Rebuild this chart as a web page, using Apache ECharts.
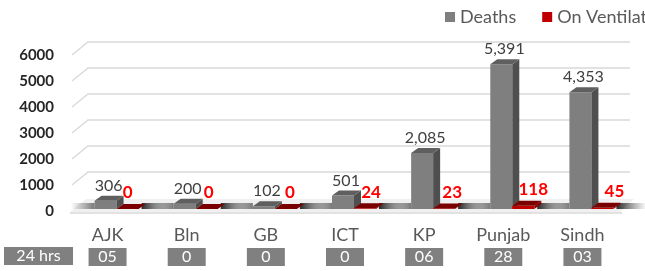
<!DOCTYPE html>
<html>
<head>
<meta charset="utf-8">
<script src="https://cdn.jsdelivr.net/npm/echarts@6/dist/echarts.min.js"></script>
<style>
  html, body { margin: 0; padding: 0; background: #fff; }
  #chart { width: 645px; height: 271px; }
</style>
</head>
<body>
<div id="chart"></div>
<script>
var regions = ['AJK', 'Bln', 'GB', 'ICT', 'KP', 'Punjab', 'Sindh'];
var deaths = [306, 200, 102, 501, 2085, 5391, 4353];
var ventilator = [0, 0, 0, 24, 23, 118, 45];
var last24 = ['05', '0', '0', '0', '06', '28', '03'];
var yTicks = [0, 1000, 2000, 3000, 4000, 5000, 6000];

var FONT = 'Lato';
var DX = 7, DY = 5;

function fmt(v) {
    return String(v).replace(/\B(?=(\d{3})+(?!\d))/g, ',');
}

function box3d(x1, x2, yTop, yBase, front, side, top) {
    return [
        {type: 'rect', shape: {x: x1, y: yTop, width: x2 - x1, height: yBase - yTop}, style: {fill: front}},
        {type: 'polygon', shape: {points: [[x2, yTop], [x2 + DX, yTop - DY], [x2 + DX, yBase - DY], [x2, yBase]]}, style: {fill: side}},
        {type: 'polygon', shape: {points: [[x1, yTop], [x1 + DX, yTop - DY], [x2 + DX, yTop - DY], [x2, yTop]]}, style: {fill: top}}
    ];
}

// gridlines + floor
function renderGrid(params, api) {
    var cs = params.coordSys;
    var t = api.value(1);
    var y = api.coord([0, t])[1];
    var x0 = cs.x;
    var xEnd = cs.x + cs.width + 8;
    if (t === 0) {
        var kids = [{
            type: 'polygon',
            shape: {points: [[x0 + 2, y + 1], [x0 + 18, y - 12], [xEnd + 4, y - 12], [xEnd - 10, y + 1]]},
            style: {fill: '#f0f0f0'}
        }, {
            type: 'line',
            shape: {x1: x0 + 2, y1: y + 2, x2: xEnd - 8, y2: y + 2},
            style: {stroke: '#d9d9d9', lineWidth: 1.5}
        }];
        return {type: 'group', children: kids};
    }
    return {
        type: 'polyline',
        shape: {points: [[x0 + 4, y], [x0 + 20, y - 13], [xEnd, y - 13]]},
        style: {stroke: '#d9d9d9', lineWidth: 1.3, fill: null}
    };
}

function renderDeaths(params, api) {
    var i = api.value(0), v = api.value(1);
    var p = api.coord([i, v]);
    var base = api.coord([i, 0])[1];
    var c = p[0];
    var x1 = c - 13, x2 = c + 9;
    var kids = [];
    // floor shadows
    kids.push({
        type: 'rect', shape: {x: x1 - 24, y: base - 6, width: 24, height: 6},
        style: {fill: new echarts.graphic.LinearGradient(0, 0, 1, 0, [
            {offset: 0, color: 'rgba(120,120,120,0)'}, {offset: 1, color: 'rgba(90,90,90,0.8)'}])}
    });
    kids.push({
        type: 'rect', shape: {x: c + 31 + DX - 4, y: base - 6, width: 30, height: 6},
        style: {fill: new echarts.graphic.LinearGradient(0, 0, 1, 0, [
            {offset: 0, color: 'rgba(20,20,20,0.9)'}, {offset: 1, color: 'rgba(60,60,60,0)'}])}
    });
    kids = kids.concat(box3d(x1, x2, p[1], base, '#7f7f7f', '#4f4f4f', '#5f5f5f'));
    kids.push({
        type: 'text',
        style: {
            text: fmt(v), x: (x1 + x2) / 2 + 3, y: p[1] - DY - 2,
            align: 'center', verticalAlign: 'bottom',
            fill: '#404040', font: '16px ' + FONT
        }
    });
    return {type: 'group', children: kids};
}

function renderVent(params, api) {
    var i = api.value(0), v = api.value(1);
    var p = api.coord([i, v]);
    var base = api.coord([i, 0])[1];
    var c = p[0];
    var x1 = c + 9, x2 = c + 31;
    var kids = box3d(x1, x2, p[1], base, '#c00000', '#8a0000', '#7a0000');
    kids.push({
        type: 'text',
        style: {
            text: fmt(v), x: (x1 + x2) / 2 + i * 2, y: p[1] - DY - 11,
            align: 'center', verticalAlign: 'middle',
            fill: '#ff0000', font: 'bold 17px ' + FONT
        }
    });
    return {type: 'group', children: kids};
}

var myChart = echarts.init(document.getElementById('chart'));
myChart.setOption({
    animation: false,
    textStyle: {fontFamily: FONT},
    legend: {
        left: 440, top: 3, width: 400,
        itemWidth: 10, itemHeight: 10, itemGap: 26,
        icon: 'rect',
        textStyle: {fontSize: 18, color: '#595959', fontFamily: FONT},
        data: ['Deaths', 'On Ventilator']
    },
    grid: [
        {left: 68, right: 23, top: 55, bottom: 60},
        {left: 68, right: 23, top: 48, bottom: 62}
    ],
    xAxis: [{
        type: 'category', gridIndex: 0, data: regions,
        axisLine: {show: false}, axisTick: {show: false},
        axisLabel: {margin: 15, fontSize: 18, color: '#595959', fontFamily: FONT}
    }, {
        type: 'category', gridIndex: 0, data: last24, position: 'bottom', offset: 30,
        axisLine: {show: false}, axisTick: {show: false},
        axisLabel: {
            margin: 7, fontSize: 16, color: '#ffffff', fontFamily: FONT,
            backgroundColor: '#808080', width: 38, align: 'center',
            lineHeight: 14, padding: [2, 0, 2, 0]
        }
    }, {
        type: 'category', gridIndex: 1, data: regions, show: false
    }],
    yAxis: [{
        type: 'value', gridIndex: 0, min: 0, max: 6000, interval: 1000,
        axisLine: {show: false}, axisTick: {show: false}, splitLine: {show: false},
        axisLabel: {
            margin: 14, fontSize: 15, fontWeight: 'bold', color: '#262626', fontFamily: FONT,
            formatter: function (v) { return String(v); }
        }
    }, {
        type: 'value', gridIndex: 1, min: 0, max: 6000, interval: 1000, show: false
    }],
    graphic: [{
        type: 'group', left: 4, top: 247,
        children: [{
            type: 'rect', shape: {x: 0, y: 0, width: 69, height: 18}, style: {fill: '#808080'}
        }, {
            type: 'text', x: 34.5, y: 9,
            style: {text: '24 hrs', align: 'center', verticalAlign: 'middle', fill: '#fff', font: '16px ' + FONT}
        }]
    }],
    series: [{
        name: 'grid', type: 'custom', xAxisIndex: 0, yAxisIndex: 0, silent: true,
        renderItem: renderGrid,
        data: yTicks.map(function (t) { return [0, t]; }),
        z: 1
    }, {
        name: 'Deaths', type: 'custom', xAxisIndex: 2, yAxisIndex: 1,
        itemStyle: {color: '#7f7f7f'},
        renderItem: renderDeaths,
        data: deaths.map(function (v, i) { return [i, v]; }),
        z: 3
    }, {
        name: 'On Ventilator', type: 'custom', xAxisIndex: 2, yAxisIndex: 1,
        itemStyle: {color: '#c00000'},
        renderItem: renderVent,
        data: ventilator.map(function (v, i) { return [i, v]; }),
        z: 4
    }]
});
</script>
</body>
</html>
